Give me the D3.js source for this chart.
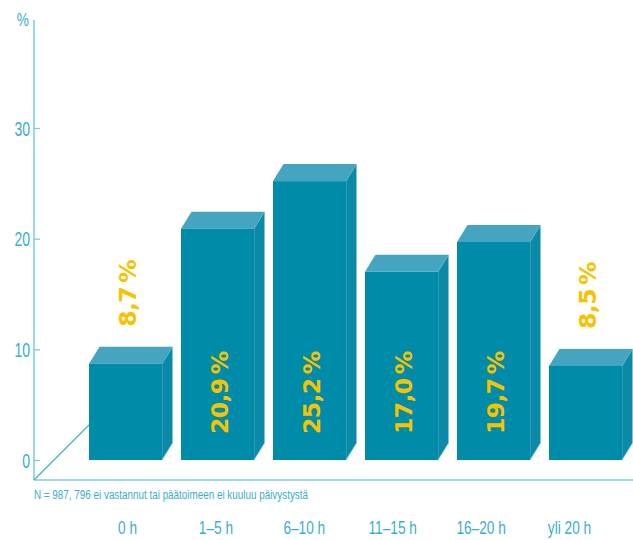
<!DOCTYPE html>
<html>
<head>
<meta charset="utf-8">
<script src="https://cdn.jsdelivr.net/npm/d3@7"></script>
<style>
  html, body { margin: 0; padding: 0; background: #fff; }
  svg { display: block; }
</style>
</head>
<body>
<svg id="chart" width="633" height="540"></svg>
<script>
// Weekly on-call hours, share of respondents (%)
const categories = ["0 h", "1–5 h", "6–10 h", "11–15 h", "16–20 h", "yli 20 h"];
const values = [8.7, 20.9, 25.2, 17.0, 19.7, 8.5];
const yTicks = [0, 10, 20, 30];
const footnote = "N = 987, 796 ei vastannut tai päätoimeen ei kuuluu päivystystä";
const unitLabel = "%";

const W = 633, H = 540;
const axisX = 34, floorY = 480, axisTop = 20;
const depth = { dx: 10.5, dy: -17 };
const squeeze = 0.72; // horizontal narrowing for the light axis typeface

const colors = {
  front: "#008ba9",
  top: "#45a5c0",
  side: "#0a8aa6",
  edge: "#7cc4d6",
  axis: "#7fcbdc",
  text: "#3aaeca",
  value: "#f6c300"
};

const LIGHT = "'Liberation Sans', Arimo, Arial, sans-serif";
const BOLD = "'DejaVu Sans', Verdana, sans-serif";

const svg = d3.select("#chart");

const x = d3.scaleBand()
  .domain(categories)
  .range([89, 622])
  .paddingInner(19 / 92)
  .paddingOuter(0);

const y = d3.scaleLinear().domain([0, 30]).range([460, 128]);

const xLabel = d3.scalePoint()
  .domain(categories)
  .range([127.5, 569.5]);

// Vertical value axis
const yAxis = d3.axisLeft(y).tickValues(yTicks).tickSize(0).tickPadding(0);
const gy = svg.append("g").attr("transform", `translate(${axisX},0)`).call(yAxis);
gy.select(".domain").remove();
gy.selectAll(".tick text")
  .style("font-family", LIGHT)
  .style("font-size", "19.5px")
  .attr("fill", colors.text)
  .attr("x", -4 / squeeze)
  .attr("dy", "0.36em")
  .attr("transform", `scale(${squeeze},1)`);
gy.selectAll(".tick").append("line")
  .attr("x1", 0).attr("x2", 6)
  .attr("stroke", colors.axis).attr("stroke-width", 1.3);

svg.append("line")
  .attr("x1", axisX).attr("x2", axisX)
  .attr("y1", axisTop).attr("y2", floorY)
  .attr("stroke", colors.axis).attr("stroke-width", 1.5);

svg.append("text")
  .attr("transform", `translate(29,26) scale(${squeeze},1)`)
  .attr("text-anchor", "end")
  .style("font-family", LIGHT)
  .style("font-size", "19px")
  .attr("fill", colors.text)
  .text(unitLabel);

// Floor lines
svg.append("line")
  .attr("x1", axisX).attr("x2", W)
  .attr("y1", floorY).attr("y2", floorY)
  .attr("stroke", colors.axis).attr("stroke-width", 1.5);

const x0 = x(categories[0]);
svg.append("line")
  .attr("x1", axisX).attr("y1", floorY)
  .attr("x2", x0).attr("y2", floorY - (x0 - axisX))
  .attr("stroke", colors.text).attr("stroke-width", 1.1);

// 3D bars
const bw = x.bandwidth();
const bars = svg.append("g").selectAll("g").data(values).join("g");

bars.append("path") // side face
  .attr("d", (d, i) => {
    const l = x(categories[i]) + bw, t = y(d), b = y(0);
    return `M${l},${t}L${l + depth.dx},${t + depth.dy}L${l + depth.dx},${b + depth.dy}L${l},${b}Z`;
  })
  .attr("fill", colors.side)
  .attr("stroke", colors.edge).attr("stroke-width", 0.6);

bars.append("path") // top face
  .attr("d", (d, i) => {
    const l = x(categories[i]), t = y(d);
    return `M${l},${t}L${l + depth.dx},${t + depth.dy}L${l + bw + depth.dx},${t + depth.dy}L${l + bw},${t}Z`;
  })
  .attr("fill", colors.top);

bars.append("rect") // front face
  .attr("x", (d, i) => x(categories[i]))
  .attr("y", d => y(d))
  .attr("width", bw)
  .attr("height", d => y(0) - y(d))
  .attr("fill", colors.front);

// Value labels, written upwards (thin space before the percent sign)
const fmt = v => d3.format(".1f")(v).replace(".", ",") + "\u2009%";
bars.append("text")
  .style("font-family", BOLD)
  .style("font-weight", "bold")
  .style("font-size", "23.5px")
  .style("letter-spacing", "-0.6px")
  .attr("fill", colors.value)
  .attr("transform", (d, i) => {
    const cx = x(categories[i]) + bw / 2 + 10.5;
    const sy = d < 10 ? y(d) - 37 : y(0) - 26;
    return `translate(${cx},${sy}) rotate(-90)`;
  })
  .text(d => fmt(d));

// Footnote and category labels
svg.append("text")
  .attr("x", axisX).attr("y", 499)
  .attr("textLength", 274)
  .attr("lengthAdjust", "spacingAndGlyphs")
  .style("font-family", LIGHT)
  .style("font-size", "13.5px")
  .attr("fill", colors.text)
  .text(footnote);

svg.append("g")
  .selectAll("text").data(categories).join("text")
  .attr("transform", d => `translate(${xLabel(d)},534) scale(0.76,1)`)
  .attr("text-anchor", "middle")
  .style("font-family", LIGHT)
  .style("font-size", "18px")
  .attr("fill", colors.text)
  .text(d => d);
</script>
</body>
</html>
